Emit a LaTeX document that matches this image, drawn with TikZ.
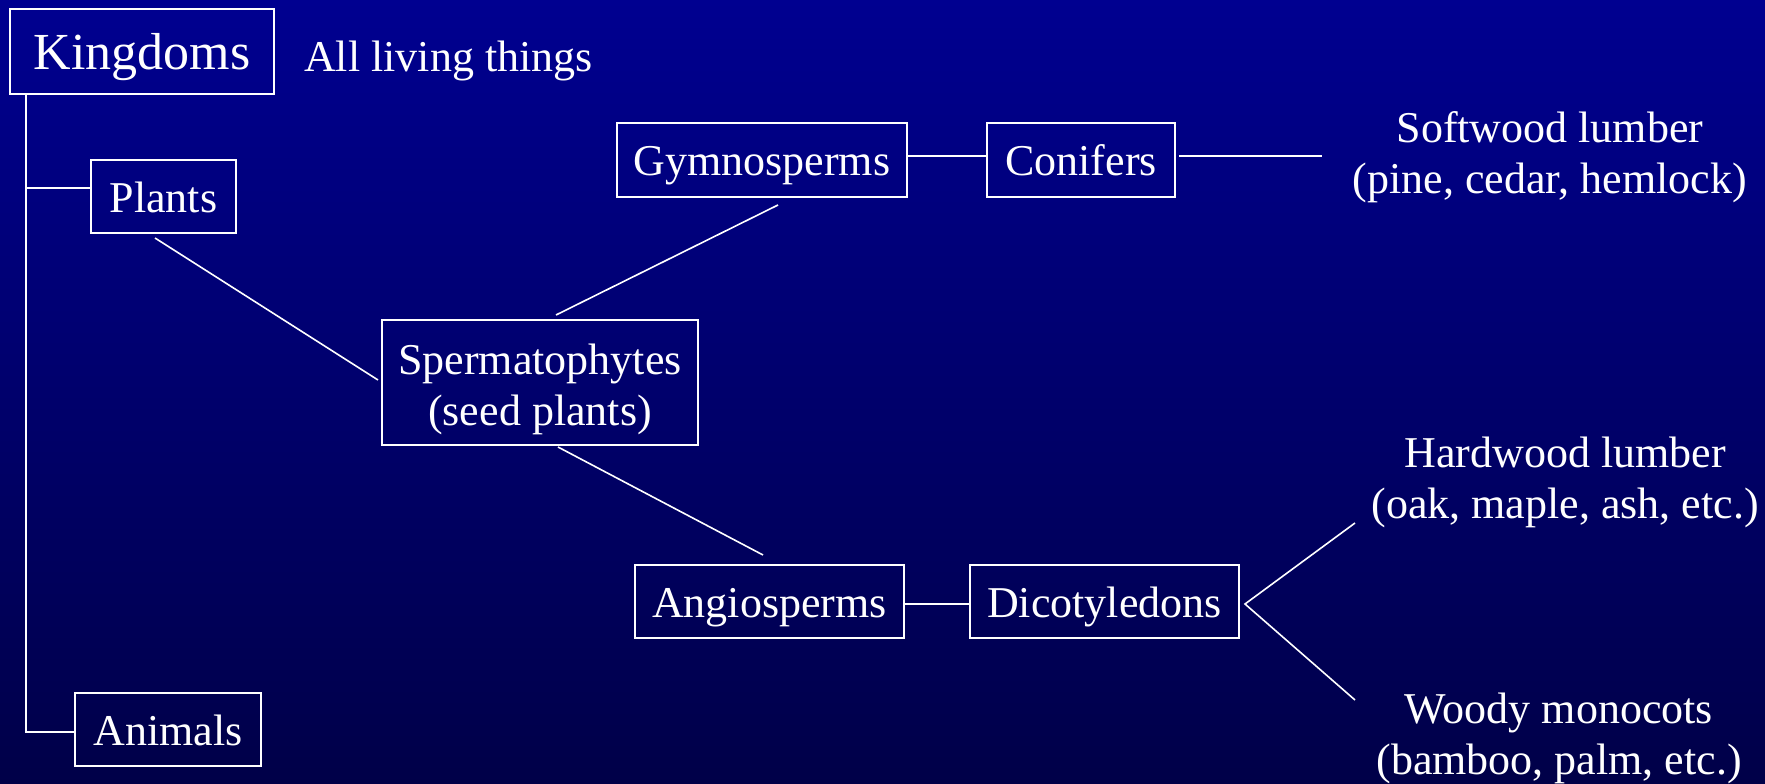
\documentclass[tikz,border=0pt]{standalone}
\usepackage{fontspec}
\setmainfont{Liberation Serif}
\usetikzlibrary{calc}
\definecolor{bgtop}{RGB}{0,0,144}
\definecolor{bgbot}{RGB}{0,0,72}
\tikzset{
  box/.style={draw=white, line width=2pt, inner sep=0pt, align=center, text=white,
    font=\fontsize{44}{51}\selectfont, text height=36pt, text depth=5pt},
  lbl/.style={text=white, align=center, inner sep=0pt, font=\fontsize{44}{51}\selectfont},
  hline/.style={draw=white, line width=2.5pt},
  dline/.style={draw=white, line width=1.6pt}
}
\begin{document}
\begin{tikzpicture}[x=1pt,y=-1pt]
\shade[top color=bgtop, bottom color=bgbot] (0,0) rectangle (1765,784);
\useasboundingbox (0,0) rectangle (1765,784);
% boxes
\node[box, minimum width=264pt, minimum height=85pt, font=\fontsize{52}{60}\selectfont, text height=42pt, text depth=5pt] (kingdoms) at (142,51.5) {Kingdoms};
\node[lbl, anchor=base west] (alllt) at (304,71) {All living things};
\node[box, minimum width=145pt, minimum height=73pt] (plants) at (163.5,196.5) {Plants};
\node[box, minimum width=186pt, minimum height=73pt] (animals) at (168,729.5) {Animals};
\node[box, minimum width=316pt, minimum height=125pt, text height=90pt, text depth=5pt] (sperm) at (540,382.5) {Spermatophytes\\(seed plants)};
\node[box, minimum width=290pt, minimum height=74pt] (gymno) at (762,160) {Gymnosperms};
\node[box, minimum width=188pt, minimum height=74pt] (conif) at (1081,160) {Conifers};
\node[box, minimum width=269pt, minimum height=73pt] (angio) at (769.5,601.5) {Angiosperms};
\node[box, minimum width=269pt, minimum height=73pt] (dicot) at (1104.5,601.5) {Dicotyledons};
% labels
\node[lbl] (soft) at (1550,157) {Softwood lumber\\(pine, cedar, hemlock)};
\node[lbl] (hard) at (1565,482) {Hardwood lumber\\(oak, maple, ash, etc.)};
\node[lbl] (woody) at (1559,738) {Woody monocots\\(bamboo, palm, etc.)};
% free ends
\coordinate (ktop) at ([xshift=17pt]kingdoms.south west);
\coordinate (softend) at (1322,156);
\coordinate (hardend) at (1355,523);
\coordinate (woodyend) at (1355,700);
\coordinate (dfork) at ([xshift=5pt,yshift=-2.5pt]dicot.east);
% connectors
\draw[hline] (ktop) |- ([yshift=-2.5pt]animals.west);
\draw[hline] ([yshift=8.5pt]plants.west) -| (ktop);
\draw[dline] ([xshift=-8.5pt,yshift=-4pt]plants.south) -- ([xshift=-3pt,yshift=2.5pt]sperm.west);
\draw[dline] ([xshift=16pt,yshift=4pt]sperm.north) -- ([xshift=16pt,yshift=-7pt]gymno.south);
\draw[dline] ([xshift=18pt,yshift=-1pt]sperm.south) -- ([xshift=-6.5pt,yshift=9pt]angio.north);
\draw[hline] ([yshift=4pt]gymno.east) -- ([yshift=4pt]conif.west);
\draw[hline] ([xshift=3pt,yshift=4pt]conif.east) -- (softend);
\draw[hline] ([yshift=-2.5pt]angio.east) -- ([yshift=-2.5pt]dicot.west);
\draw[dline] (hardend) -- (dfork) -- (woodyend);
\end{tikzpicture}
\end{document}
